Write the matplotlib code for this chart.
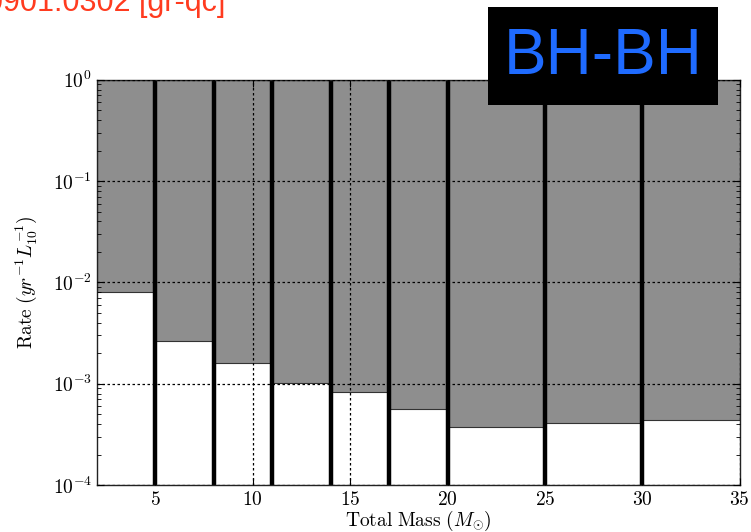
import matplotlib
matplotlib.use("Agg")
import matplotlib.pyplot as plt
from matplotlib.ticker import FuncFormatter, LogLocator
import numpy as np

plt.rcParams['mathtext.fontset'] = 'cm'

# bin edges of total mass (M_sun) and upper limit on rate in each bin
bin_edges = [2, 5, 8, 11, 14, 17, 20, 25, 30, 35]
rate_limits = [8.1e-3, 2.62e-3, 1.6e-3, 1.01e-3, 8.27e-4, 5.6e-4, 3.78e-4, 4.14e-4, 4.4e-4]
x_ticks = [5, 10, 15, 20, 25, 30, 35]
y_ticks = [1e-4, 1e-3, 1e-2, 1e-1, 1e0]

fig = plt.figure(figsize=(7.51, 5.32), dpi=100)
ax = fig.add_axes([0.129, 0.0883, 0.856, 0.7617])

# gray = excluded region above the limit, white below
widths = [bin_edges[i + 1] - bin_edges[i] for i in range(len(rate_limits))]
heights = [1.0 - r for r in rate_limits]
ax.bar(bin_edges[:-1], heights, width=widths, bottom=rate_limits, align='edge',
       color='#8e8e8e', edgecolor='#333333', linewidth=0.8, zorder=1)

# thick separators between bins
ax.vlines(bin_edges[1:-1], 1e-4, 1.0, colors='black', linewidth=3.2, zorder=2)

ax.set_yscale('log')
ax.set_xlim(bin_edges[0], bin_edges[-1])
ax.set_ylim(1e-4, 1.0)
ax.set_xticks(x_ticks)
ax.set_yticks(y_ticks)
ax.xaxis.set_major_formatter(FuncFormatter(lambda v, p: '$%d$' % v))
ax.yaxis.set_major_formatter(FuncFormatter(lambda v, p: '$10^{%d}$' % round(np.log10(v))))
ax.yaxis.set_minor_locator(LogLocator(base=10, subs=range(2, 10)))
ax.yaxis.set_minor_formatter(FuncFormatter(lambda v, p: ''))
ax.set_axisbelow(False)
ax.grid(True, which='major', linestyle=(0, (2, 2)), color='black', linewidth=0.9)

ax.tick_params(which='both', direction='in', top=True, right=True, labelsize=14)
ax.tick_params(which='major', length=5)
ax.tick_params(which='minor', length=3)
for sp in ax.spines.values():
    sp.set_linewidth(1.0)
    sp.set_color('#222222')

ax.set_xlabel(r'$\mathrm{Total\ Mass}\ (M_{\odot})$', fontsize=14, labelpad=0)
ax.set_ylabel(r'$\mathrm{Rate}\ (yr^{-1}L_{10}^{-1})$', fontsize=14, labelpad=10)

# overlay annotations (red header is cut off at the top edge, as in the reference)
fig.text(225 / 751, 1 - 11 / 532, 'arXiv:0901.0302 [gr-qc]', color='#ff3b1f',
         fontsize=22, ha='right', va='baseline', family='Liberation Sans')
fig.patches.append(plt.Rectangle((488 / 751, 1 - 105 / 532), 230 / 751, 98 / 532,
                                 transform=fig.transFigure, facecolor='black',
                                 edgecolor='none', zorder=5))
fig.text(603 / 751, 1 - 57 / 532, 'BH-BH', color='#1f6bff', fontsize=46,
         ha='center', va='center', family='Liberation Sans', zorder=6)

fig.savefig('out.png', dpi=100)
